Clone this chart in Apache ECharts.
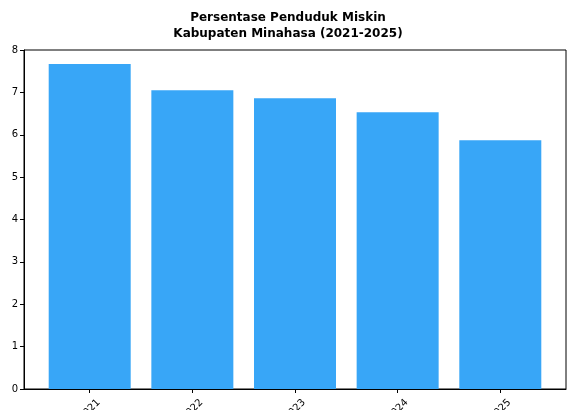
<!DOCTYPE html>
<html><head><meta charset="utf-8">
<script src="https://cdn.jsdelivr.net/npm/echarts@6/dist/echarts.min.js"></script>
<style>html,body{margin:0;padding:0;background:#fff}#c{width:576px;height:410px}</style>
</head><body><div id="c"></div>
<script>
const titleText = 'Persentase Penduduk Miskin\nKabupaten Minahasa (2021-2025)';
const categories = ['2021', '2022', '2023', '2024', '2025'];
const values = [7.67, 7.05, 6.86, 6.53, 5.87];
const yTicks = [0, 1, 2, 3, 4, 5, 6, 7, 8];

const idx = categories.map((c, i) => i);
const chart = echarts.init(document.getElementById('c'), null, {renderer: 'canvas'});
const font = 'DejaVu Sans';
chart.setOption({
  animation: false,
  backgroundColor: '#fff',
  title: {
    text: titleText, left: 'center', top: 5,
    textStyle: {fontFamily: font, fontSize: 12, fontWeight: 'bold', color: '#000', lineHeight: 16}
  },
  grid: {left: 24, right: 10, top: 50, bottom: 21, containLabel: false, outerBoundsMode: 'none',
    show: true, borderColor: '#000', borderWidth: 1, backgroundColor: 'transparent'},
  xAxis: {
    type: 'value', min: -0.64, max: categories.length - 1 + 0.64,
    axisLine: {show: true, onZero: false, lineStyle: {color: '#000', width: 1}},
    axisTick: {show: true, length: 4, customValues: idx, lineStyle: {color: '#000'}},
    axisLabel: {rotate: 45, align: 'center', verticalAlign: 'middle', margin: 21, customValues: idx,
      formatter: v => categories[Math.round(v)] || '',
      fontFamily: font, fontSize: 10, color: '#000'},
    splitLine: {show: false}
  },
  yAxis: {
    type: 'value', min: yTicks[0], max: yTicks[yTicks.length - 1], interval: 1,
    axisLine: {show: true, onZero: false, lineStyle: {color: '#000', width: 1}},
    axisTick: {show: true, length: 4, lineStyle: {color: '#000'}},
    axisLabel: {fontFamily: font, fontSize: 10, color: '#000', margin: 6},
    splitLine: {show: false}
  },
  series: [{
    type: 'bar', data: values.map((v, i) => [idx[i], v]), barWidth: 82,
    itemStyle: {color: '#38a6f7'}
  }]
});
</script>
</body></html>
